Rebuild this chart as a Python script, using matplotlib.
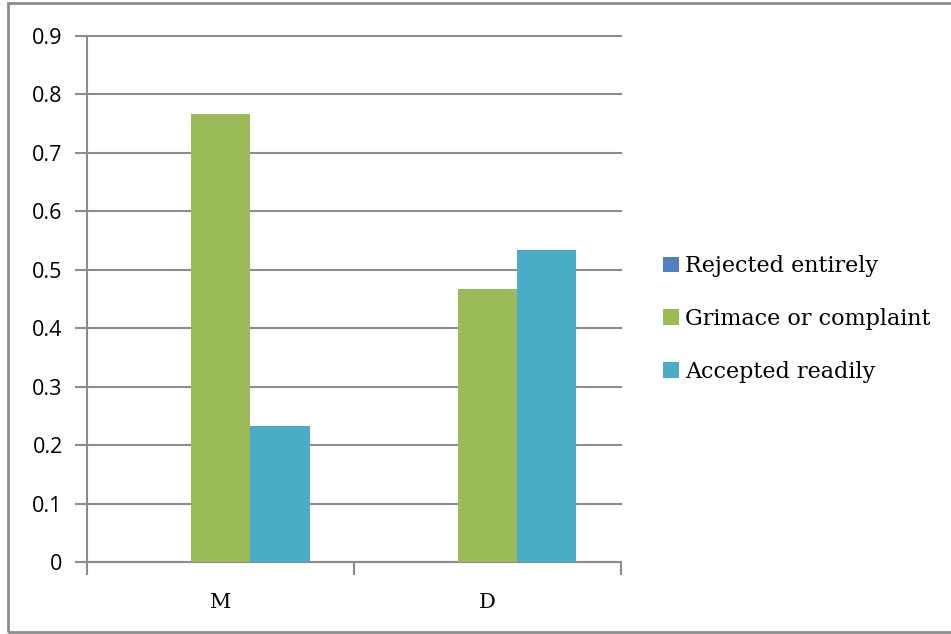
import numpy as np
import matplotlib.pyplot as plt
from matplotlib.patches import Rectangle

# data
categories = ['M', 'D']
series_names = ['Rejected entirely', 'Grimace or complaint', 'Accepted readily']
rejected = [0.0, 0.0]
grimace = [0.767, 0.467]
accepted = [0.233, 0.533]
yticks = [0, 0.1, 0.2, 0.3, 0.4, 0.5, 0.6, 0.7, 0.8, 0.9]

colors = ['#4F81BD', '#9BBB59', '#4BACC6']
grid_col = '#8C8C8C'

fig = plt.figure(figsize=(9.51, 6.34), dpi=100)
ax = fig.add_axes([87/951, 1 - 562/634, (621 - 87)/951, (562 - 36)/634])

# outer chart border like the Excel chart area
fig.patches.append(Rectangle((8/951, 1 - 632/634), 1.0, (632 - 3)/634,
                             transform=fig.transFigure, fill=False,
                             edgecolor='#8C8C8C', linewidth=2))

x = np.arange(len(categories)) + 0.5
w = 1 / 4.5
for i, vals in enumerate([rejected, grimace, accepted]):
    ax.bar(x + (i - 1) * w, vals, width=w, color=colors[i],
           label=series_names[i], zorder=3)

ax.set_xlim(0, 2)
ax.set_ylim(0, 0.9)
ax.set_yticks(yticks)
ax.set_yticklabels([f'{t:g}' for t in yticks], fontfamily='Open Sans', fontsize=15.5)
ax.yaxis.grid(True, color=grid_col, linewidth=1.5, zorder=0)
for gl in ax.get_ygridlines():
    gl.set_clip_on(False)

# category labels between the tick marks
ax.set_xticks([0, 1, 2])
ax.set_xticklabels([])
ax.set_xticks(x, minor=True)
ax.set_xticklabels(categories, minor=True, fontfamily='DejaVu Serif', fontsize=15)
ax.tick_params(axis='x', which='minor', length=0, pad=22)
ax.tick_params(axis='both', which='major', length=9, width=1.5, color=grid_col)
ax.tick_params(axis='y', pad=8.5)

for s in ['top', 'right']:
    ax.spines[s].set_visible(False)
for s in ['left', 'bottom']:
    ax.spines[s].set_color(grid_col)
    ax.spines[s].set_linewidth(1.5)

leg = ax.legend(loc='center left', bbox_to_anchor=(1.062, 0.462), frameon=False,
                prop={'family': 'DejaVu Serif', 'size': 16},
                handlelength=0.7, handleheight=0.7, handletextpad=0.3,
                labelspacing=1.38, borderaxespad=0)

fig.savefig('out.png', dpi=100)
